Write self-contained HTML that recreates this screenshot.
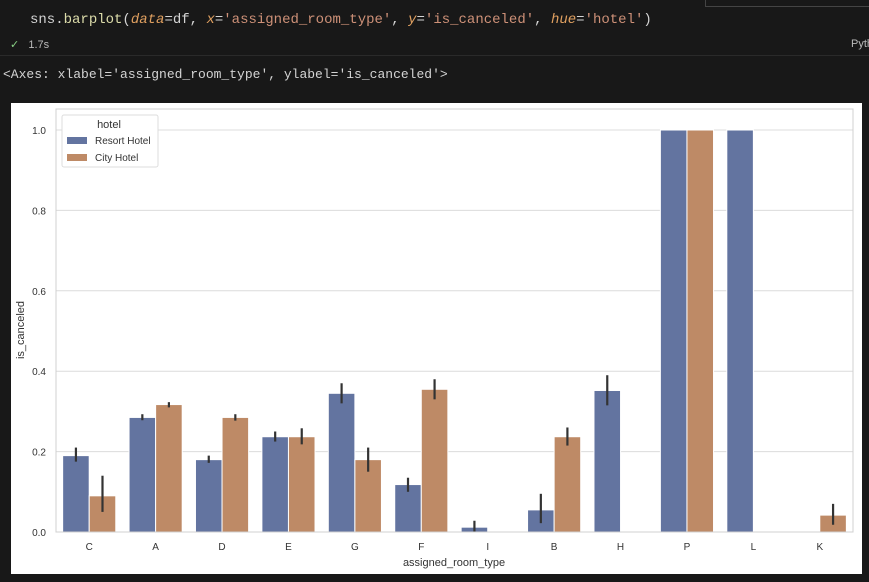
<!DOCTYPE html>
<html><head><meta charset="utf-8">
<style>
body{margin:0;width:869px;height:582px;background:#181818;overflow:hidden;font-family:"Liberation Sans",sans-serif;position:relative}
.mono{font-family:"Liberation Mono",monospace}
</style></head>
<body>
<div style="position:absolute;left:705px;top:-2px;width:170px;height:7px;border:1px solid #444;"></div>
<div class="mono" style="position:absolute;left:30px;top:12px;font-size:14px;color:#d4d4d4;white-space:pre">sns.<span style="color:#dcdcaa">barplot</span>(<i style="color:#e0a060">data</i>=df, <i style="color:#e0a060">x</i>=<span style="color:#ce9178">'assigned_room_type'</span>, <i style="color:#e0a060">y</i>=<span style="color:#ce9178">'is_canceled'</span>, <i style="color:#e0a060">hue</i>=<span style="color:#ce9178">'hotel'</span>)</div>
<div style="position:absolute;left:10px;top:38px;font-size:11px;color:#bbb"><span style="color:#89d185">✓</span>&nbsp;&nbsp; 1.7s</div>
<div style="position:absolute;left:851px;top:38px;font-size:11px;color:#bbb">Pyth</div>
<div style="position:absolute;left:0;top:55px;width:869px;height:1px;background:#2a2a2a"></div>
<div class="mono" style="position:absolute;left:3px;top:67px;font-size:13px;color:#d4d4d4;white-space:pre">&lt;Axes: xlabel='assigned_room_type', ylabel='is_canceled'&gt;</div>
<svg width="869" height="582" style="position:absolute;left:0;top:0" font-family="Liberation Sans, sans-serif">
<rect x="11" y="103" width="851" height="471" fill="#fff"/>
<g id="grid"></g><g id="bars"></g><g id="errs"></g><g id="labels"></g>
<rect x="56" y="109" width="797" height="423" fill="none" stroke="#d0d0d0" stroke-width="1"/>
<text x="454" y="566" font-size="11" text-anchor="middle" fill="#333">assigned_room_type</text>
<text x="24" y="330" font-size="11" text-anchor="middle" fill="#333" transform="rotate(-90 24 330)">is_canceled</text>
<g>
<rect x="62" y="115" width="96" height="52" rx="2" fill="#fff" stroke="#ddd"/>
<text x="109" y="128" font-size="11" text-anchor="middle" fill="#333">hotel</text>
<rect x="67" y="137" width="20" height="7" fill="#6374a0"/>
<text x="95" y="144" font-size="10" fill="#333">Resort Hotel</text>
<rect x="67" y="154" width="20" height="7" fill="#be8a66"/>
<text x="95" y="161" font-size="10" fill="#333">City Hotel</text>
</g>
</svg>
<script>
const categories=['C','A','D','E','G','F','I','B','H','P','L','K'];
const resort=[0.19,0.285,0.18,0.237,0.345,0.118,0.012,0.055,0.352,1,1,null];
const resortLo=[0.175,0.278,0.172,0.225,0.32,0.1,0,0.022,0.315,1,1,null];
const resortHi=[0.21,0.293,0.19,0.25,0.37,0.135,0.028,0.095,0.39,1,1,null];
const city=[0.09,0.317,0.285,0.237,0.18,0.355,null,0.237,null,1,null,0.042];
const cityLo=[0.05,0.31,0.277,0.218,0.15,0.33,null,0.215,null,1,null,0.018];
const cityHi=[0.14,0.323,0.293,0.258,0.21,0.38,null,0.26,null,1,null,0.07];
const yTicks=[0,0.2,0.4,0.6,0.8,1.0];
const yTickLabels=['0.0','0.2','0.4','0.6','0.8','1.0'];
const NS='http://www.w3.org/2000/svg';
const L=56,R=853,Y0=532,Y1=130;
const step=(R-L)/categories.length;
const x=i=>L+step*(i+0.5);
const y=v=>Y0-(Y0-Y1)*v;
function mk(tag,attrs,parent){const e=document.createElementNS(NS,tag);for(const k in attrs)e.setAttribute(k,attrs[k]);document.getElementById(parent).appendChild(e);return e;}
yTicks.forEach((t,i)=>{
 const g=mk('line',{x1:L,x2:R,y1:y(t),y2:y(t),stroke:'#dcdcdc','stroke-width':1},'grid');
 
 
 const tx=mk('text',{x:46,y:y(t)+4,'font-size':10,'text-anchor':'end',fill:'#333'},'labels');
 tx.textContent=yTickLabels[i];
 
 
});
const bw=step*0.4;
function series(vals,lo,hi,off,color,nm){
 vals.forEach((v,i)=>{
  if(v===null)return;
  const bx=x(i)+off*bw;
  const b=mk('rect',{x:bx,y:y(v),width:bw,height:Y0-y(v),fill:color,stroke:'#fff','stroke-width':1},'bars');
  
  
  if(hi[i]!==lo[i]){
   const e=mk('line',{x1:bx+bw/2,x2:bx+bw/2,y1:y(lo[i]),y2:y(hi[i]),stroke:'#333','stroke-width':2.2},'errs');
   
   
  }
 });
}
series(resort,resortLo,resortHi,-1,'#6374a0','resort');
series(city,cityLo,cityHi,0,'#be8a66','city');
categories.forEach((c,i)=>{
 const t=mk('text',{x:x(i),y:550,'font-size':10,'text-anchor':'middle',fill:'#333'},'labels');
 t.textContent=c;
 
 
});
</script>
</body></html>
